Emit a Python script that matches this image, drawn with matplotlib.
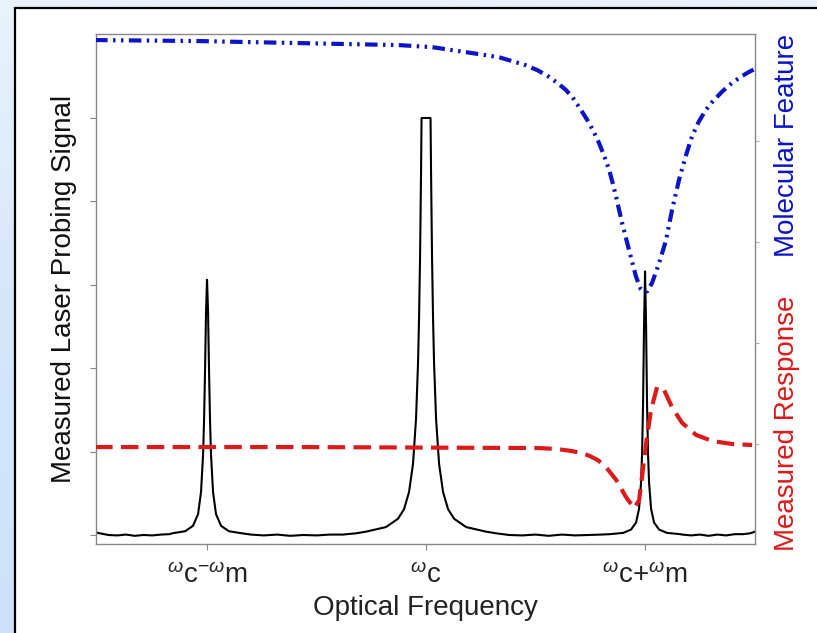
import numpy as np
import matplotlib.pyplot as plt
from matplotlib.patches import Rectangle
from matplotlib.colors import LinearSegmentedColormap

plt.rcParams['font.family'] = ['Liberation Sans', 'DejaVu Sans']
plt.rcParams['mathtext.fontset'] = 'custom'
plt.rcParams['mathtext.rm'] = 'Liberation Sans'
plt.rcParams['mathtext.it'] = 'Liberation Sans:italic'
plt.rcParams['mathtext.sf'] = 'Liberation Sans'

# --- probing signal (left axis): sidebands at wc-wm, wc+wm, carrier at wc (saturated) ---
side_offsets = [0, 0.0046, 0.0091, 0.0137, 0.0183, 0.0274, 0.041, 0.064, 0.100, 0.160]
lower_peak = [0.612, 0.536, 0.394, 0.273, 0.191, 0.103, 0.050, 0.022, 0.009, 0.004]
upper_peak = [0.632, 0.504, 0.315, 0.194, 0.126, 0.063, 0.030, 0.013, 0.005, 0.002]

carrier_offsets = [0, 0.0205, 0.0228, 0.0274, 0.032, 0.0365, 0.0457, 0.0594, 0.0776,
                   0.1005, 0.128, 0.183, 0.274]
carrier_peak = [1.0, 1.0, 0.872, 0.664, 0.519, 0.414, 0.279, 0.171, 0.103,
                0.062, 0.039, 0.019, 0.008]

base1_x = [-1.507, -1.48, -1.45, -1.41, -1.37, -1.33, -1.29, -1.25, -1.21, -1.17]
base1_y = [0.006, 0.003, 0.000, -0.001, 0.001, -0.002, 0.000, -0.001, 0.001, 0.002]
base2_x = [-0.80, -0.74, -0.68, -0.62, -0.56, -0.50, -0.44, -0.38, -0.32]
base2_y = [0.001, -0.001, 0.001, -0.002, 0.000, -0.001, 0.001, 0.001, 0.004]
base3_x = [0.32, 0.38, 0.44, 0.50, 0.56, 0.62, 0.68, 0.74, 0.80]
base3_y = [0.004, 0.000, -0.001, 0.001, -0.002, 0.001, -0.001, 0.000, 0.001]
base4_x = [1.17, 1.21, 1.25, 1.29, 1.33, 1.37, 1.41, 1.45, 1.48, 1.502]
base4_y = [0.001, -0.001, 0.001, -0.002, 0.001, -0.001, 0.002, 0.002, 0.004, 0.008]

# --- molecular feature (right axis): absorption dip around wc+wm ---
feature_x = [-1.511, -1.037, -0.580, -0.123, 0.027, 0.183, 0.333, 0.457, 0.510, 0.562,
             0.600, 0.639, 0.670, 0.699, 0.720, 0.744, 0.767, 0.790, 0.813, 0.836,
             0.852, 0.868, 0.895, 0.927, 0.959, 0.980, 0.995, 1.012, 1.032, 1.064,
             1.096, 1.123, 1.155, 1.187, 1.215, 1.245, 1.275, 1.306, 1.352, 1.397,
             1.440, 1.475, 1.498]
feature_y = [1.000, 0.998, 0.994, 0.990, 0.986, 0.976, 0.966, 0.950, 0.940, 0.927,
             0.915, 0.901, 0.886, 0.867, 0.853, 0.836, 0.817, 0.796, 0.771, 0.743,
             0.717, 0.689, 0.638, 0.584, 0.531, 0.507, 0.501, 0.503, 0.519, 0.558,
             0.604, 0.663, 0.723, 0.772, 0.810, 0.838, 0.860, 0.877, 0.898, 0.915,
             0.928, 0.937, 0.942]

# --- measured response (right axis): dispersive shape ---
response_x = [-1.511, -0.580, 0.516, 0.600, 0.667, 0.710, 0.744, 0.785, 0.822, 0.868,
              0.913, 0.950, 0.973, 0.986, 1.005, 1.027, 1.055, 1.087, 1.123, 1.169,
              1.233, 1.306, 1.397, 1.489]
response_y = [0.194, 0.194, 0.192, 0.190, 0.186, 0.182, 0.177, 0.168, 0.154, 0.129,
              0.095, 0.073, 0.089, 0.135, 0.202, 0.267, 0.313, 0.307, 0.273, 0.242,
              0.218, 0.206, 0.200, 0.198]

tick_pos = [-1, 0, 1]
tick_labels = [r'$^{\omega}\mathregular{c}^{-\omega}\mathregular{m}$',
               r'$^{\omega}\mathregular{c}$',
               r'$^{\omega}\mathregular{c{+}}^{\omega}\mathregular{m}$']


def peak(center, offsets, heights):
    off = np.array(offsets)
    h = np.array(heights)
    return (np.concatenate([center - off[::-1], center + off[1:]]),
            np.concatenate([h[::-1], h[1:]]))


px1, py1 = peak(-1, side_offsets, lower_peak)
px2, py2 = peak(0, carrier_offsets, carrier_peak)
px3, py3 = peak(1, side_offsets, upper_peak)
sig_x = np.concatenate([base1_x, px1, base2_x, px2, base3_x, px3, base4_x])
sig_y = np.concatenate([base1_y, py1, base2_y, py2, base3_y, py3, base4_y])

fig = plt.figure(figsize=(8.17, 6.33), dpi=100)

# bluish backdrop with a white panel on top
bg = fig.add_axes([0, 0, 1, 1], zorder=-10)
cmap = LinearSegmentedColormap.from_list('bg', ['#cde1f8', '#d6e7fa', '#eaf2fc'])
bg.imshow(np.linspace(0, 1, 256).reshape(-1, 1), aspect='auto', cmap=cmap,
          extent=[0, 1, 0, 1], origin='lower')
bg.add_patch(Rectangle((15 / 817, -0.1), 1.2, 1.1 - 8 / 633, facecolor='white',
                       edgecolor='black', linewidth=1.6, transform=bg.transAxes))
bg.set_xlim(0, 1)
bg.set_ylim(0, 1)
bg.axis('off')

ax = fig.add_axes([96 / 817, 1 - 544 / 633, (755 - 96) / 817, (544 - 34) / 633])
ax.plot(sig_x, sig_y, color='black', linewidth=1.5)
ax.set_xlim(-1.507, 1.502)
ax.set_ylim(-0.0216, 1.2014)
ax.set_yticks([0, 0.2, 0.4, 0.6, 0.8, 1.0])
ax.set_yticklabels([])
ax.set_xticks(tick_pos)
ax.set_xticklabels(tick_labels, fontsize=20)
ax.tick_params(colors='#888888', labelcolor='#222222', length=4, width=0.8, pad=10)
ax.set_xlabel('Optical Frequency', fontsize=20, color='#222222', labelpad=4)
for s in ax.spines.values():
    s.set_color('#888888')
    s.set_linewidth(1.0)

ax2 = ax.twinx()
ax2.plot(response_x, response_y, color='#dd1a1a', linewidth=3.0, dashes=(4.2, 2.0))
ax2.plot(feature_x, feature_y, color='#0a14c8', linewidth=3.0,
         dashes=(3.0, 1.3, 0.6, 1.3, 0.6, 1.3))
ax2.set_ylim(0.002, 1.012)
ax2.set_yticks([0.2, 0.4, 0.6, 0.8])
ax2.set_yticklabels([])
ax2.tick_params(colors='#aaaaaa', length=3, width=0.8)
for s in ax2.spines.values():
    s.set_visible(False)

fig.text(64 / 817, 1 - 289 / 633, 'Measured Laser Probing Signal', rotation=90,
         ha='center', va='center', fontsize=20, color='#111111')
fig.text(787 / 817, 1 - 145 / 633, 'Molecular Feature', rotation=90, ha='center',
         va='center', fontsize=20, color='#0a14c8')
fig.text(787 / 817, 1 - 423 / 633, 'Measured Response', rotation=90, ha='center',
         va='center', fontsize=20, color='#dd1a1a')

fig.savefig('out.png', dpi=100)
